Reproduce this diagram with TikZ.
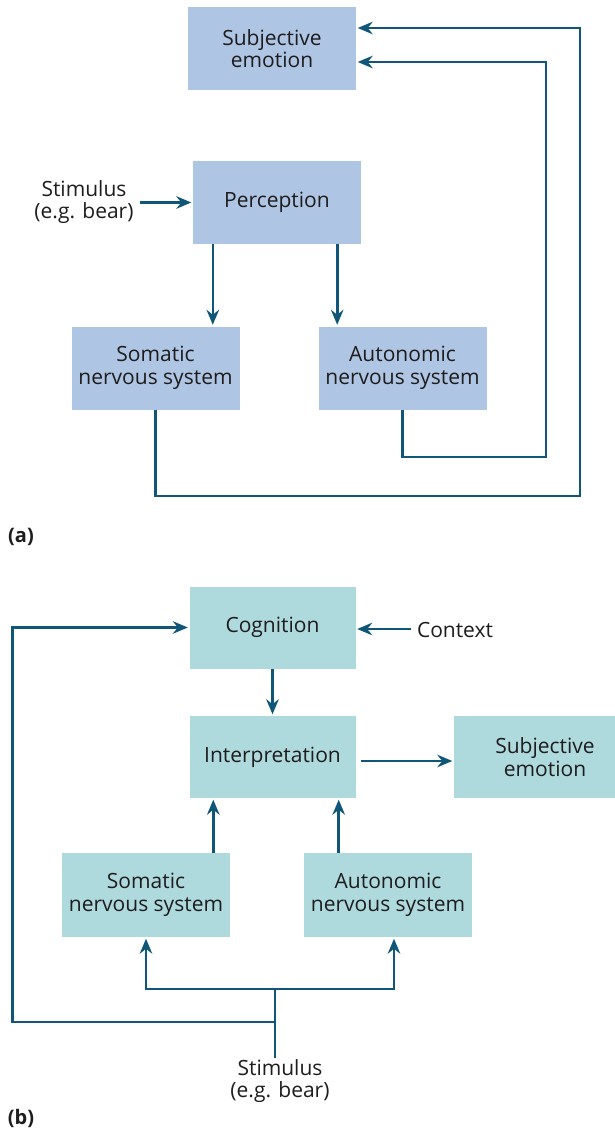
\documentclass[tikz,border=0pt]{standalone}
\usepackage{fontspec}
\setmainfont{Open Sans}
\usetikzlibrary{arrows.meta,calc}
\definecolor{boxA}{RGB}{175,197,228}
\definecolor{boxB}{RGB}{174,218,222}
\definecolor{link}{RGB}{16,86,120}
\definecolor{ink}{RGB}{30,28,28}
\begin{document}
\begin{tikzpicture}[x=1pt,y=-1pt,
  every node/.style={text=ink,font=\fontsize{21}{22.5}\selectfont,align=center,inner sep=0pt},
  boxa/.style={fill=boxA,minimum width=168pt,minimum height=83pt},
  boxb/.style={fill=boxB,minimum width=166pt,minimum height=82pt},
  conn/.style={draw=link,line width=2.6pt},
  arr/.style={conn,-{Stealth[length=15pt,width=12.5pt,inset=5pt]},shorten >=1.5pt},
  tag/.style={font=\fontsize{20}{22}\selectfont\bfseries}]
\useasboundingbox (0,0) rectangle (614,1131);

% ---------- (a) ----------
\node[boxa] (subA) at (272,48.5) {Subjective\\emotion};
\node[boxa] (perc) at (277,202.5) {Perception};
\node[boxa] (somA) at (155.5,368) {Somatic\\nervous system};
\node[boxa] (autA) at (402.5,368) {Autonomic\\nervous system};
\node (stimA) at (84,202) {Stimulus\\(e.g. bear)};
\node[tag] (labA) at (21,537) {(a)};

\draw[arr] ([xshift=-53pt]perc.west) -- (perc.west);
\draw[arr] ([xshift=20pt]perc.south west) -- ([xshift=20pt]perc.south west |- somA.north);
\draw[arr] ([xshift=-24pt]perc.south east) -- ([xshift=-24pt]perc.south east |- autA.north);
\draw[arr] (somA.south) |- (580,496) |- ([yshift=20.5pt]subA.east);
\draw[arr] (autA.south) |- (546,457) |- ([yshift=-13.5pt]subA.east);

% ---------- (b) ----------
\node[boxb] (cog) at (272.5,627.5) {Cognition};
\node[boxb] (interp) at (272.5,757) {Interpretation};
\node[boxb,minimum width=182pt,text width=160pt] (subB) at (545,757) {Subjective\\emotion};
\node[boxb,minimum width=168pt,minimum height=84pt] (somB) at (146,895) {Somatic\\nervous system};
\node[boxb,minimum width=168pt,minimum height=84pt] (autB) at (388,895) {Autonomic\\nervous system};
\node (ctx) at (455,630) {Context};
\node (stimB) at (280,1081) {Stimulus\\(e.g. bear)};
\node[tag] (labB) at (21,1118) {(b)};
\coordinate (split) at (275,989);
\coordinate (join) at (275,1022);

\draw[arr] ([xshift=55pt,yshift=-1.5pt]cog.east) -- ([yshift=-1.5pt]cog.east);
\draw[arr] (cog.south) -- (interp.north);
\draw[arr,shorten <=5pt] ([yshift=-4pt]interp.east) -- ([yshift=-4pt]interp.east -| subB.west);
\draw[arr] ([xshift=24pt]interp.south west |- somB.north) -- ([xshift=24pt]interp.south west);
\draw[arr] ([xshift=-17pt]interp.south east |- autB.north) -- ([xshift=-17pt]interp.south east);
\draw[conn] (stimB.north) ++(-5,-1) -- (split);
\draw[arr] (split) -| (somB.south);
\draw[arr] (split) -| ([xshift=6pt]autB.south);
\draw[arr] (join) -| ([xshift=-177pt]cog.west) -- (cog.west);
\end{tikzpicture}
\end{document}
